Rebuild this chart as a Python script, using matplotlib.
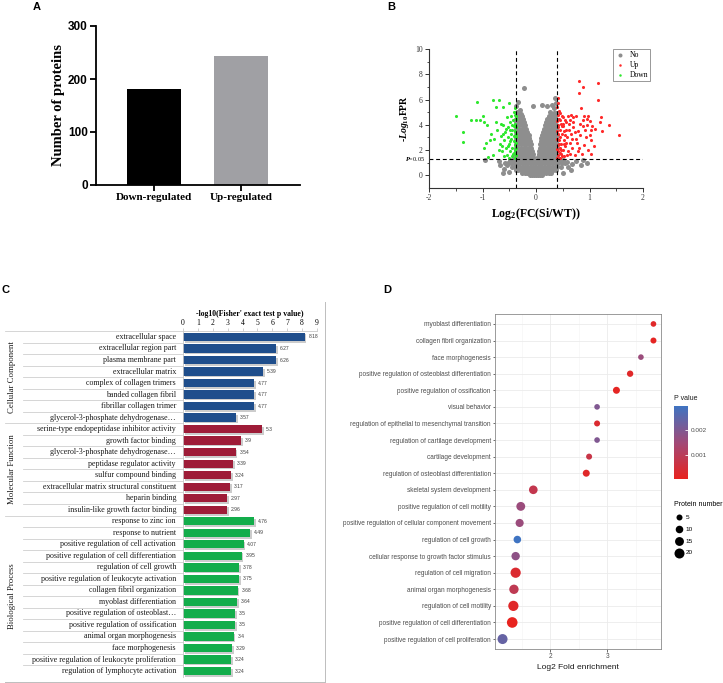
import numpy as np
import matplotlib
matplotlib.use('Agg')
import matplotlib.pyplot as plt
from matplotlib import transforms
from matplotlib.colors import LinearSegmentedColormap
import matplotlib.patheffects as pe

plt.rcParams['axes.unicode_minus'] = False
plt.rcParams['mathtext.fontset'] = 'custom'
plt.rcParams['mathtext.rm'] = 'Liberation Serif:bold'
plt.rcParams['mathtext.it'] = 'Liberation Serif:italic:bold'
plt.rcParams['mathtext.bf'] = 'Liberation Serif:bold'

SERIF = 'Liberation Serif'
SANS = 'Liberation Sans'
W, H = 723, 683

# ---------------- A: counts of regulated proteins
groups_a = ['Down-regulated', 'Up-regulated']
counts_a = [181, 243]
colors_a = ['black', '#a0a0a4']

# ---------------- B: volcano plot
grey_rows_y = [0.0, 0.2, 0.45, 0.7, 0.95, 1.2, 1.45, 1.7, 1.95, 2.2, 2.45,
               2.7, 2.95, 3.2, 3.45, 3.7, 3.95, 4.2, 4.45, 4.7]
grey_rows_x = [
    [-0.12, -0.08, -0.04, 0.0, 0.04, 0.08, 0.12],
    [-0.26, -0.21, -0.16, -0.11, -0.06, -0.01, 0.04, 0.09, 0.14, 0.19, 0.24, 0.28],
    [-0.38, -0.33, -0.28, -0.23, -0.18, -0.13, -0.08, -0.03, 0.02, 0.07, 0.12,
     0.17, 0.22, 0.27, 0.32, 0.37],
    [-0.45, -0.40, -0.35, -0.30, -0.25, -0.20, -0.15, -0.10, -0.05, 0.0, 0.05,
     0.10, 0.15, 0.20, 0.25, 0.30, 0.35, 0.40, 0.46],
    [-0.52, -0.46, -0.41, -0.36, -0.31, -0.26, -0.21, -0.16, -0.11, -0.06, -0.02,
     0.03, 0.07, 0.12, 0.17, 0.22, 0.27, 0.32, 0.37, 0.42, 0.48, 0.55],
    [-0.48, -0.43, -0.38, -0.33, -0.28, -0.23, -0.18, -0.13, -0.08, -0.03,
     0.03, 0.08, 0.13, 0.18, 0.23, 0.28, 0.33, 0.38, 0.44, 0.50],
    [-0.40, -0.35, -0.30, -0.25, -0.20, -0.15, -0.10, -0.05,
     0.04, 0.09, 0.14, 0.19, 0.24, 0.29, 0.34, 0.39],
    [-0.39, -0.34, -0.29, -0.24, -0.19, -0.14, -0.10, -0.06,
     0.05, 0.09, 0.13, 0.18, 0.23, 0.28, 0.33, 0.38],
    [-0.38, -0.33, -0.28, -0.23, -0.18, -0.13, -0.07,
     0.06, 0.10, 0.14, 0.19, 0.24, 0.29, 0.34, 0.38],
    [-0.38, -0.33, -0.28, -0.23, -0.18, -0.13, -0.09,
     0.07, 0.11, 0.15, 0.20, 0.25, 0.30, 0.35, 0.39],
    [-0.38, -0.33, -0.28, -0.23, -0.18, -0.14, -0.10,
     0.08, 0.12, 0.16, 0.21, 0.26, 0.31, 0.36, 0.39],
    [-0.38, -0.33, -0.28, -0.23, -0.18, -0.14, -0.11,
     0.09, 0.13, 0.17, 0.22, 0.27, 0.32, 0.37],
    [-0.38, -0.33, -0.28, -0.23, -0.18, -0.13, 0.10, 0.14, 0.18, 0.23, 0.28, 0.33, 0.38],
    [-0.38, -0.33, -0.28, -0.23, -0.18, -0.14, 0.12, 0.16, 0.20, 0.25, 0.30, 0.35, 0.39],
    [-0.37, -0.32, -0.27, -0.22, -0.16, 0.13, 0.17, 0.21, 0.26, 0.31, 0.36],
    [-0.37, -0.32, -0.27, -0.22, -0.18, 0.15, 0.19, 0.23, 0.28, 0.33, 0.38],
    [-0.37, -0.32, -0.27, -0.22, -0.20, 0.17, 0.21, 0.25, 0.29, 0.34, 0.38],
    [-0.37, -0.32, -0.27, -0.22, 0.19, 0.23, 0.27, 0.31, 0.36],
    [-0.37, -0.32, -0.28, -0.25, 0.21, 0.25, 0.29, 0.33, 0.38],
    [-0.36, -0.31, -0.27, 0.24, 0.28, 0.32, 0.36],
]
grey_extra_x = [-0.35, -0.30, -0.37, -0.33, 0.27, 0.33, 0.37, 0.36, 0.30, -0.22,
                -0.05, 0.12, 0.20, -0.60, -0.55, 0.60, 0.68, 0.85, -0.95, 0.95,
                -0.70, 0.75, 0.65, -0.62, 0.50, -0.50, -0.68, 0.58, -0.58, 0.88,
                -0.34, 0.38, 0.34, -0.28]
grey_extra_y = [5.0, 5.2, 5.5, 5.8, 5.0, 5.3, 5.7, 6.1, 5.6, 6.9,
                5.5, 5.6, 5.5, 0.5, 0.8, 0.7, 0.9, 0.8, 1.2, 1.0,
                1.1, 1.15, 0.4, 0.2, 0.2, 0.3, 0.85, 1.05, 1.0, 1.2,
                4.95, 4.95, 4.9, 4.85]

down_x = [-1.50, -1.37, -1.36, -1.10, -1.21, -1.13, -1.05, -0.99, -0.97, -0.92,
          -0.80, -0.69, -0.75, -0.62, -0.50, -0.75, -0.86, -0.90, -0.94, -0.80,
          -0.97, -0.85, -0.78, -0.72, -0.68, -0.66, -0.64, -0.62, -0.60, -0.58,
          -0.57, -0.55, -0.54, -0.53, -0.52, -0.50, -0.49, -0.48, -0.47, -0.46,
          -0.46, -0.45, -0.44, -0.44, -0.43, -0.42, -0.42, -0.41, -0.41, -0.40,
          -0.40, -0.40, -0.39, -0.39, -0.39, -0.38, -0.38, -0.38, -0.38, -0.38,
          -0.37, -0.37, -0.37, -0.51, -0.59, -0.63, -0.70, -0.56, -0.45, -0.49,
          -0.43, -0.48, -0.53, -0.61, -0.65, -0.42, -0.40]
down_y = [4.68, 3.41, 2.62, 5.77, 4.42, 4.37, 4.37, 4.73, 4.23, 4.02,
          5.93, 5.93, 5.42, 5.42, 5.71, 4.23, 2.78, 1.45, 2.60, 1.59,
          2.2, 3.3, 2.9, 3.6, 2.5, 3.1, 1.9, 4.0, 2.8, 3.4,
          2.2, 4.6, 1.6, 3.0, 3.8, 2.5, 4.2, 1.9, 3.3, 2.9,
          4.7, 1.5, 3.6, 2.2, 4.4, 2.7, 3.9, 1.8, 3.1, 4.8,
          2.4, 3.5, 1.4, 4.1, 2.0, 3.0, 4.5, 2.6, 3.8, 1.6,
          3.3, 4.7, 2.2, 1.4, 1.5, 2.3, 2.0, 3.7, 4.0, 3.6,
          1.7, 2.7, 2.3, 3.3, 4.1, 5.0, 5.3]

up_x = [0.80, 0.88, 0.81, 1.16, 1.16, 1.37, 1.56, 1.21, 1.20, 1.24,
        1.11, 0.85, 0.97, 0.41, 0.42, 0.40, 0.60, 0.65, 0.70, 0.75,
        0.90, 0.95, 1.00, 1.05, 1.00, 0.93, 0.88, 0.82, 0.78, 0.74,
        0.90, 0.98, 1.03, 0.86, 0.80, 0.72, 0.70, 0.66, 0.64, 0.62,
        0.60, 0.58, 0.56, 0.55, 0.54, 0.53, 0.52, 0.51, 0.50, 0.49,
        0.48, 0.47, 0.47, 0.46, 0.45, 0.45, 0.44, 0.44, 0.43, 0.43,
        0.42, 0.42, 0.42, 0.41, 0.41, 0.41, 0.40, 0.40, 0.40, 0.40,
        0.40, 0.41, 0.43, 0.45, 0.50, 0.53, 0.57, 0.61, 0.68, 0.76,
        0.83, 0.70, 0.58, 0.52, 0.48, 0.46, 0.44, 0.43, 0.49, 0.55,
        0.63, 0.67, 0.73, 0.79, 0.92, 0.96, 1.02, 0.87, 0.64, 0.57,
        0.51, 0.45, 1.03, 1.08]
up_y = [7.49, 6.96, 6.53, 7.33, 5.95, 3.97, 3.17, 4.63, 4.26, 3.52,
        3.63, 5.34, 4.68, 6.1, 5.7, 5.4, 4.7, 4.75, 4.65, 4.7,
        4.7, 4.5, 4.3, 3.9, 3.2, 3.0, 3.9, 4.1, 3.5, 2.9,
        2.4, 2.0, 2.8, 1.7, 2.2, 1.6, 3.8, 3.3, 2.6, 4.1,
        1.9, 3.0, 3.6, 2.3, 4.4, 1.5, 2.8, 3.9, 2.0, 3.3,
        4.7, 1.7, 2.5, 4.1, 3.0, 1.4, 3.6, 2.2, 4.5, 2.8,
        1.9, 3.3, 4.0, 2.4, 1.6, 3.8, 2.9, 4.3, 2.1, 1.4,
        3.5, 4.8, 5.1, 4.9, 4.6, 3.5, 2.6, 3.6, 2.2, 2.6,
        3.2, 4.2, 1.6, 2.5, 3.9, 2.0, 1.8, 2.5, 1.5, 3.2,
        1.7, 2.9, 3.4, 1.9, 3.6, 4.0, 3.6, 4.4, 4.4, 4.2,
        4.1, 4.4, 1.7, 2.3]

# ---------------- C: GO enrichment bars
cc_terms = ['extracellular space', 'extracellular region part', 'plasma membrane part',
            'extracellular matrix', 'complex of collagen trimers', 'banded collagen fibril',
            'fibrillar collagen trimer', 'glycerol-3-phosphate dehydrogenase…']
cc_vals = [8.18, 6.27, 6.26, 5.39, 4.77, 4.77, 4.77, 3.57]
mf_terms = ['serine-type endopeptidase inhibitor activity', 'growth factor binding',
            'glycerol-3-phosphate dehydrogenase…', 'peptidase regulator activity',
            'sulfur compound binding', 'extracellular matrix structural constituent',
            'heparin binding', 'insulin-like growth factor binding']
mf_vals = [5.3, 3.9, 3.54, 3.39, 3.24, 3.17, 2.97, 2.96]
bp_terms = ['response to zinc ion', 'response to nutrient',
            'positive regulation of cell activation',
            'positive regulation of cell differentiation', 'regulation of cell growth',
            'positive regulation of leukocyte activation', 'collagen fibril organization',
            'myoblast differentiation', 'positive regulation of osteoblast…',
            'positive regulation of ossification', 'animal organ morphogenesis',
            'face morphogenesis', 'positive regulation of leukocyte proliferation',
            'regulation of lymphocyte activation']
bp_vals = [4.76, 4.49, 4.07, 3.95, 3.78, 3.75, 3.68, 3.64, 3.5, 3.5, 3.4, 3.29, 3.24, 3.24]
group_names = ['Cellular Component', 'Molecular Function', 'Biological Process']
group_colors = ['#1f4e8c', '#9e1c38', '#13ad4b']

# ---------------- D: enrichment bubble plot
d_terms = ['myoblast differentiation', 'collagen fibril organization', 'face morphogenesis',
           'positive regulation of osteoblast differentiation',
           'positive regulation of ossification', 'visual behavior',
           'regulation of epithelial to mesenchymal transition',
           'regulation of cartilage development', 'cartilage development',
           'regulation of osteoblast differentiation', 'skeletal system development',
           'positive regulation of cell motility',
           'positive regulation of cellular component movement',
           'regulation of cell growth', 'cellular response to growth factor stimulus',
           'regulation of cell migration', 'animal organ morphogenesis',
           'regulation of cell motility', 'positive regulation of cell differentiation',
           'positive regulation of cell proliferation']
d_fold = [3.81, 3.81, 3.59, 3.40, 3.16, 2.82, 2.82, 2.82, 2.68, 2.63,
          1.70, 1.48, 1.46, 1.42, 1.39, 1.39, 1.36, 1.35, 1.33, 1.16]
d_count = [4, 5, 4, 6, 8, 4, 5, 4, 5, 8, 14, 15, 12, 10, 13, 21, 17, 21, 23, 20]
d_pval = [0.0002, 0.0001, 0.0016, 0.0002, 0.0001, 0.0020, 0.0003, 0.0020, 0.0007, 0.0002,
          0.0008, 0.0016, 0.0016, 0.0030, 0.0018, 0.0003, 0.0009, 0.0002, 0.00002, 0.0024]
size_breaks = [5, 10, 15, 20]


def px_axes(fig, x0, y0, x1, y1):
    return fig.add_axes([x0 / W, 1 - y1 / H, (x1 - x0) / W, (y1 - y0) / H])


def dot_size(n):
    d_px = np.sqrt(14.7 + 4.27 * np.asarray(n, dtype=float))
    return (d_px * 0.72) ** 2


fig = plt.figure(figsize=(W / 100, H / 100), dpi=100)
fig.patch.set_facecolor('white')

for lab, x, y in [('A', 37, 7), ('B', 391, 7), ('C', 5, 290), ('D', 387, 290)]:
    fig.text(x / W, 1 - y / H, lab, fontfamily=SANS, fontweight='bold', fontsize=8,
             ha='center', va='center')

# ---- A
ax = px_axes(fig, 96, 26, 300, 185)
ax.bar(range(len(counts_a)), counts_a, width=0.61, color=colors_a)
ax.set_xlim(-0.667, 1.678)
ax.set_ylim(0, 300)
ax.set_yticks([0, 100, 200, 300])
ax.set_xticks(range(len(groups_a)), groups_a)
for s in ['top', 'right']:
    ax.spines[s].set_visible(False)
for s in ['left', 'bottom']:
    ax.spines[s].set_linewidth(1.3)
ax.tick_params(width=1.3, length=4, pad=2)
for t in ax.get_yticklabels():
    t.set_fontfamily(SANS)
    t.set_fontweight('bold')
    t.set_fontsize(8.5)
for t in ax.get_xticklabels():
    t.set_fontfamily(SERIF)
    t.set_fontweight('bold')
    t.set_fontsize(8)
ax.set_ylabel('Number of proteins', fontfamily=SERIF, fontweight='bold', fontsize=10.5)
ax.yaxis.set_label_coords(-0.15, 0.5)

# ---- B
ax = px_axes(fig, 429, 49, 643, 188)
gx = [x for row in grey_rows_x for x in row] + grey_extra_x
gy = [y for y, row in zip(grey_rows_y, grey_rows_x) for _ in row] + grey_extra_y
ax.scatter(gx, gy, s=13, c='#8e8e8e', lw=0, label='No')
ax.scatter(up_x, up_y, s=5, c='#ff2a2a', lw=0, label='Up')
ax.scatter(down_x, down_y, s=5, c='#2ee82e', lw=0, label='Down')
for xv in [-0.37, 0.40]:
    ax.axvline(xv, color='black', lw=0.8, ls=(0, (3.5, 2.5)))
ax.axhline(1.3, color='black', lw=0.8, ls=(0, (3.5, 2.5)))
ax.set_xlim(-2, 2)
ax.set_ylim(-1, 10)
ax.set_xticks([-2, -1, 0, 1, 2])
ax.set_xticks([-1.5, -0.5, 0.5, 1.5], minor=True)
ax.set_yticks([0, 2, 4, 6, 8, 10])
ax.set_yticks([1, 3, 5, 7, 9], minor=True)
for s in ['top', 'right']:
    ax.spines[s].set_visible(False)
for s in ['left', 'bottom']:
    ax.spines[s].set_linewidth(0.8)
    ax.spines[s].set_color('#333333')
ax.tick_params(which='major', length=3, width=0.7, labelsize=5.5, pad=1.5,
               colors='#333333')
ax.tick_params(which='minor', length=1.8, width=0.6, colors='#333333')
for t in ax.get_xticklabels() + ax.get_yticklabels():
    t.set_fontfamily(SERIF)
ax.set_xlabel('Log$_{2}$(FC(Si/WT))', fontfamily=SERIF, fontweight='bold', fontsize=8.5,
              labelpad=3)
ax.set_ylabel('-$\\mathit{Log}_{10}$FPR', fontfamily=SERIF, fontweight='bold', fontsize=7,
              labelpad=3)
ax.text(-0.02, 1.3, '$\\it{P}$=0.05', transform=ax.get_yaxis_transform(), ha='right',
        va='center', fontsize=4.5, fontfamily=SERIF)
leg = ax.legend(loc='upper right', bbox_to_anchor=(1.052, 1.03),
                prop={'family': SERIF, 'size': 5.5}, markerscale=0.8, handletextpad=0.6,
                borderpad=0.3, labelspacing=0.25, handlelength=1.2, fancybox=False,
                framealpha=1)
leg.get_frame().set_edgecolor('#888888')
leg.get_frame().set_linewidth(0.6)

# ---- C
terms_c = cc_terms + mf_terms + bp_terms
vals_c = cc_vals + mf_vals + bp_vals
sizes_c = [len(cc_terms), len(mf_terms), len(bp_terms)]
colors_c = [c for c, k in zip(group_colors, sizes_c) for _ in range(k)]
n_c = len(terms_c)
ax = px_axes(fig, 183, 331.2, 317, 676.8)
yc = np.arange(n_c)
ax.barh(yc, vals_c, height=0.72, color=colors_c,
        path_effects=[pe.SimplePatchShadow(offset=(1.2, -1.2), shadow_rgbFace='#9a9a9a',
                                           alpha=0.5), pe.Normal()])
for i, v in enumerate(vals_c):
    ax.text(v + 0.25, i, str(v), va='center', ha='left', fontsize=3.6, fontfamily=SANS,
            color='#404040')
ax.set_xlim(0, 9)
ax.set_ylim(n_c - 0.5, -0.5)
ax.xaxis.tick_top()
ax.xaxis.set_label_position('top')
ax.set_xticks(range(10))
ax.set_yticks([])
ax.tick_params(axis='x', length=2, width=0.5, color='#bfbfbf', labelsize=5.5, pad=1)
for t in ax.get_xticklabels():
    t.set_fontfamily(SERIF)
ax.set_xlabel("-log10(Fisher' exact test p value)", fontfamily=SERIF, fontweight='bold',
              fontsize=5.6, labelpad=2)
for s in ['right', 'bottom']:
    ax.spines[s].set_visible(False)
for s in ['top', 'left']:
    ax.spines[s].set_color('#c8c8c8')
    ax.spines[s].set_linewidth(0.6)
trans = transforms.blended_transform_factory(fig.transFigure, ax.transData)
bounds = np.cumsum(sizes_c)
for i, term in enumerate(terms_c):
    ax.text(176 / W, i, term, transform=trans, ha='right', va='center',
            fontfamily=SERIF, fontsize=5.8, color='#1a1a1a', clip_on=False)
for i in range(n_c):
    yb = i - 0.5
    x0 = 5 if (i == 0 or i in bounds) else 23
    ax.plot([x0 / W, 183 / W], [yb, yb], transform=trans, color='#cfcfcf', lw=0.6,
            clip_on=False)
start = 0
for name, k in zip(group_names, sizes_c):
    ax.text(12 / W, start + (k - 1) / 2, name, transform=trans, rotation=90,
            ha='center', va='center', fontfamily=SERIF, fontsize=6.3, color='#1a1a1a')
    start += k
fig.add_artist(plt.Line2D([325 / W, 325 / W], [1 - 302 / H, 1 - 682 / H],
                          color='#bdbdbd', lw=0.7))
fig.add_artist(plt.Line2D([5 / W, 325 / W], [1 - 682 / H, 1 - 682 / H],
                          color='#bdbdbd', lw=0.7))

# ---- D
cmap = LinearSegmentedColormap.from_list('pv', ['#e8231f', '#a14a78', '#3f74c2'])
ax = px_axes(fig, 495, 314, 661, 649)
yd = np.arange(len(d_terms))
sc = ax.scatter(d_fold, yd, s=dot_size(d_count), c=d_pval, cmap=cmap,
                vmin=min(d_pval), vmax=max(d_pval), lw=0, zorder=3)
ax.set_xlim(1.0275, 3.9425)
ax.set_ylim(len(d_terms) - 1 + 0.6, -0.6)
ax.set_yticks(yd, d_terms)
ax.set_xticks([2, 3])
ax.set_xticks([1.5, 2.5, 3.5], minor=True)
ax.grid(which='major', color='#ebebeb', lw=0.6)
ax.grid(which='minor', axis='x', color='#f3f3f3', lw=0.4)
ax.set_axisbelow(True)
for s in ax.spines.values():
    s.set_color('#8a8a8a')
    s.set_linewidth(0.6)
ax.tick_params(which='major', length=1.8, width=0.5, color='#333333', labelsize=4.7,
               labelcolor='#4d4d4d', pad=1.2)
ax.tick_params(which='minor', length=0)
ax.set_xlabel('Log2 Fold enrichment', fontfamily=SANS, fontsize=6, labelpad=3,
              color='#1a1a1a')
for t in ax.get_xticklabels() + ax.get_yticklabels():
    t.set_fontfamily(SANS)

cax = px_axes(fig, 674, 406, 688, 479)
cb = fig.colorbar(sc, cax=cax)
cb.set_ticks([0.001, 0.002])
cb.set_ticklabels(['0.001', '0.002'])
cb.outline.set_visible(False)
cax.tick_params(length=2.5, width=0.6, color='white', direction='in', labelsize=4.6,
                labelcolor='#4d4d4d', pad=2)
for t in cax.get_yticklabels():
    t.set_fontfamily(SANS)
fig.text(674 / W, 1 - 399 / H, 'P value', fontfamily=SANS, fontsize=5, va='center',
         ha='left', color='#1a1a1a')

handles = [ax.scatter([], [], s=dot_size(n), c='black', lw=0) for n in size_breaks]
leg = ax.legend(handles, [str(n) for n in size_breaks], title='Protein number',
                loc='upper left', bbox_to_anchor=(1.05, 0.455), frameon=False,
                prop={'family': SANS, 'size': 4.6},
                title_fontproperties={'family': SANS, 'size': 5},
                labelspacing=1.0, handletextpad=0.3, borderpad=0.2, handlelength=1.5)
leg._legend_box.align = 'left'

fig.savefig('out.png', dpi=100)
